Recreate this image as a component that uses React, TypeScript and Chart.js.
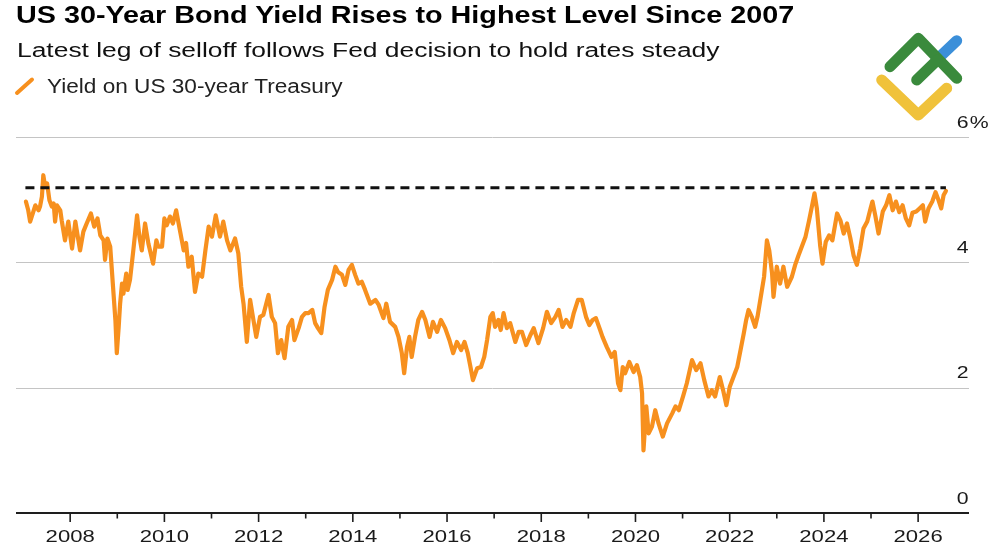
import React, { useEffect, useRef } from "react";
import { Chart, registerables } from "chart.js";

Chart.register(...registerables);

// Decimal-year dates and 30-year Treasury yields (%)
const dates: number[] = [
  2007.06, 2007.11, 2007.15, 2007.21, 2007.26, 2007.33, 2007.36, 2007.40, 2007.43, 2007.47,
  2007.51, 2007.56, 2007.61, 2007.65, 2007.68, 2007.72, 2007.79, 2007.82, 2007.89, 2007.96,
  2008.04, 2008.11, 2008.14, 2008.21, 2008.28, 2008.35, 2008.44, 2008.51, 2008.58, 2008.64,
  2008.71, 2008.74, 2008.79, 2008.85, 2008.91, 2008.96, 2008.99, 2009.03, 2009.06, 2009.10,
  2009.13, 2009.19, 2009.22, 2009.27, 2009.34, 2009.42, 2009.47, 2009.52, 2009.59, 2009.66,
  2009.76, 2009.83, 2009.87, 2009.95, 2010.00, 2010.05, 2010.12, 2010.18, 2010.25, 2010.34,
  2010.41, 2010.46, 2010.51, 2010.58, 2010.65, 2010.72, 2010.80, 2010.87, 2010.94, 2011.01,
  2011.09, 2011.18, 2011.25, 2011.33, 2011.40, 2011.50, 2011.57, 2011.63, 2011.68, 2011.75,
  2011.82, 2011.89, 2011.95, 2012.03, 2012.10, 2012.21, 2012.28, 2012.35, 2012.41, 2012.48,
  2012.55, 2012.63, 2012.71, 2012.76, 2012.85, 2012.92, 2012.99, 2013.06, 2013.14, 2013.20,
  2013.26, 2013.33, 2013.40, 2013.47, 2013.56, 2013.63, 2013.69, 2013.77, 2013.84, 2013.91,
  2013.98, 2014.05, 2014.12, 2014.19, 2014.26, 2014.37, 2014.48, 2014.55, 2014.65, 2014.71,
  2014.79, 2014.90, 2014.97, 2015.04, 2015.09, 2015.15, 2015.20, 2015.25, 2015.32, 2015.39,
  2015.47, 2015.54, 2015.63, 2015.70, 2015.79, 2015.87, 2015.96, 2016.05, 2016.13, 2016.21,
  2016.30, 2016.37, 2016.44, 2016.49, 2016.55, 2016.64, 2016.72, 2016.79, 2016.85, 2016.92,
  2016.97, 2017.02, 2017.09, 2017.14, 2017.20, 2017.27, 2017.34, 2017.45, 2017.52, 2017.59,
  2017.68, 2017.77, 2017.84, 2017.94, 2018.04, 2018.12, 2018.21, 2018.30, 2018.37, 2018.45,
  2018.53, 2018.62, 2018.69, 2018.78, 2018.86, 2018.95, 2019.02, 2019.09, 2019.16, 2019.25,
  2019.30, 2019.39, 2019.49, 2019.56, 2019.63, 2019.68, 2019.73, 2019.78, 2019.87, 2019.96,
  2020.03, 2020.10, 2020.14, 2020.17, 2020.23, 2020.28, 2020.35, 2020.42, 2020.49, 2020.58,
  2020.67, 2020.78, 2020.85, 2020.92, 2021.01, 2021.09, 2021.20, 2021.29, 2021.38, 2021.46,
  2021.55, 2021.62, 2021.69, 2021.79, 2021.86, 2021.93, 2022.00, 2022.08, 2022.16, 2022.23,
  2022.30, 2022.35, 2022.40, 2022.47, 2022.54, 2022.59, 2022.66, 2022.73, 2022.79, 2022.84,
  2022.90, 2022.93, 2023.00, 2023.07, 2023.14, 2023.22, 2023.32, 2023.39, 2023.46, 2023.53,
  2023.61, 2023.68, 2023.75, 2023.80, 2023.85, 2023.92, 2023.97, 2024.04, 2024.11, 2024.18,
  2024.28, 2024.35, 2024.42, 2024.49, 2024.56, 2024.63, 2024.70, 2024.77, 2024.84, 2024.92,
  2024.99, 2025.03, 2025.09, 2025.16, 2025.25, 2025.32, 2025.39, 2025.46, 2025.53, 2025.60,
  2025.67, 2025.74, 2025.81, 2025.88, 2025.96, 2026.03, 2026.10, 2026.15, 2026.22, 2026.30,
  2026.37, 2026.42, 2026.49, 2026.54, 2026.59,
];

const yields: number[] = [
  4.97, 4.83, 4.65, 4.79, 4.91, 4.83, 4.89, 5.05, 5.39, 5.20,
  5.26, 4.99, 4.89, 4.94, 4.65, 4.91, 4.83, 4.67, 4.35, 4.65,
  4.22, 4.65, 4.51, 4.19, 4.49, 4.62, 4.78, 4.57, 4.70, 4.43,
  4.35, 4.04, 4.38, 4.25, 3.61, 3.08, 2.55, 2.97, 3.34, 3.66,
  3.50, 3.82, 3.56, 3.72, 4.19, 4.75, 4.41, 4.19, 4.62, 4.30,
  3.98, 4.35, 4.25, 4.25, 4.70, 4.59, 4.73, 4.62, 4.83, 4.47,
  4.19, 4.31, 3.93, 4.09, 3.53, 3.82, 3.77, 4.19, 4.57, 4.41,
  4.75, 4.41, 4.65, 4.35, 4.19, 4.38, 4.14, 3.61, 3.34, 2.73,
  3.40, 3.08, 2.81, 3.13, 3.16, 3.48, 3.13, 3.03, 2.55, 2.76,
  2.47, 2.97, 3.08, 2.76, 2.95, 3.13, 3.19, 3.19, 3.24, 3.03,
  2.95, 2.87, 3.29, 3.56, 3.72, 3.93, 3.84, 3.80, 3.64, 3.88,
  3.96, 3.80, 3.66, 3.69, 3.56, 3.34, 3.40, 3.32, 3.11, 3.34,
  3.05, 2.97, 2.81, 2.55, 2.23, 2.65, 2.81, 2.49, 2.81, 3.08,
  3.21, 3.08, 2.81, 3.05, 2.89, 3.08, 2.95, 2.76, 2.55, 2.73,
  2.60, 2.73, 2.55, 2.36, 2.12, 2.31, 2.33, 2.49, 2.76, 3.13,
  3.19, 2.97, 3.08, 2.92, 3.19, 2.95, 3.03, 2.73, 2.89, 2.89,
  2.68, 2.84, 2.95, 2.71, 2.95, 3.21, 3.03, 3.13, 3.24, 2.97,
  3.08, 2.97, 3.19, 3.40, 3.40, 3.13, 3.00, 3.08, 3.11, 2.92,
  2.81, 2.65, 2.49, 2.57, 2.07, 1.96, 2.33, 2.23, 2.41, 2.25,
  2.36, 2.17, 1.91, 1.00, 1.70, 1.27, 1.38, 1.64, 1.43, 1.22,
  1.43, 1.59, 1.70, 1.64, 1.86, 2.07, 2.44, 2.28, 2.39, 2.12,
  1.86, 1.96, 1.86, 2.17, 1.96, 1.72, 2.01, 2.17, 2.33, 2.60,
  2.87, 3.08, 3.24, 3.13, 2.97, 3.13, 3.45, 3.77, 4.35, 4.19,
  3.82, 3.45, 3.93, 3.66, 3.93, 3.61, 3.77, 3.96, 4.11, 4.25,
  4.41, 4.65, 4.91, 5.10, 4.86, 4.27, 3.98, 4.33, 4.43, 4.35,
  4.78, 4.67, 4.46, 4.62, 4.39, 4.11, 3.96, 4.22, 4.54, 4.65,
  4.86, 4.97, 4.75, 4.46, 4.81, 4.91, 5.07, 4.83, 4.97, 4.80,
  4.91, 4.70, 4.59, 4.79, 4.81, 4.86, 4.91, 4.65, 4.86, 4.97,
  5.12, 5.02, 4.86, 5.07, 5.14,
];

// Dashed reference: current level, drawn across the full history
const referenceLevel = 5.19;
const referenceSpan: number[] = [2007.05, 2026.59];

const yTickValues: number[] = [0, 2, 4, 6];
const yearLabels: number[] = [2008, 2010, 2012, 2014, 2016, 2018, 2020, 2022, 2024, 2026];
const minorYears: number[] = [2009, 2011, 2013, 2015, 2017, 2019, 2021, 2023, 2025];

const ORANGE = "#f7901e";
const FONT = '"Liberation Sans", Arial, Helvetica, sans-serif';

const axisDecor = {
  id: "axisDecor",
  beforeDatasetsDraw(chart: any) {
    const { ctx, chartArea, scales } = chart;
    const y = scales.y;
    ctx.save();
    ctx.strokeStyle = "#c4c4c4";
    ctx.lineWidth = 1;
    for (const v of yTickValues) {
      if (v === 0) continue;
      const py = Math.round(y.getPixelForValue(v)) + 0.5;
      ctx.beginPath();
      ctx.moveTo(chartArea.left, py);
      ctx.lineTo(chartArea.right, py);
      ctx.stroke();
    }
    ctx.restore();
  },
  afterDraw(chart: any) {
    const { ctx, chartArea, scales } = chart;
    const x = scales.x;
    const y = scales.y;
    ctx.save();
    // baseline axis
    const base = y.getPixelForValue(0);
    ctx.strokeStyle = "#1e1e1e";
    ctx.lineWidth = 2;
    ctx.beginPath();
    ctx.moveTo(chartArea.left, base);
    ctx.lineTo(chartArea.right, base);
    ctx.stroke();
    // tick marks
    ctx.lineWidth = 1.6;
    for (const yr of yearLabels) {
      const px = x.getPixelForValue(yr);
      ctx.beginPath();
      ctx.moveTo(px, base);
      ctx.lineTo(px, base + 9);
      ctx.stroke();
    }
    for (const yr of minorYears) {
      const px = x.getPixelForValue(yr);
      ctx.beginPath();
      ctx.moveTo(px, base);
      ctx.lineTo(px, base + 5.5);
      ctx.stroke();
    }
    // year labels
    ctx.fillStyle = "#1a1a1a";
    ctx.font = `17px ${FONT}`;
    ctx.textBaseline = "alphabetic";
    ctx.textAlign = "center";
    for (const yr of yearLabels) {
      const px = x.getPixelForValue(yr);
      ctx.save();
      ctx.translate(px, base + 29);
      ctx.scale(1.3, 1);
      ctx.fillText(String(yr), 0, 0);
      ctx.restore();
    }
    // value labels above the gridlines, right aligned
    for (const v of yTickValues) {
      const py = y.getPixelForValue(v);
      ctx.save();
      ctx.translate(chartArea.right - 0.5, py - 9.5);
      ctx.scale(1.25, 1);
      ctx.textAlign = "right";
      ctx.fillText(String(v), 0, 0);
      if (v === 6) {
        ctx.textAlign = "left";
        ctx.fillText("%", 1, 0);
      }
      ctx.restore();
    }
    ctx.restore();
  },
};

function Logo() {
  return (
    <svg
      width={1000}
      height={545}
      style={{ position: "absolute", left: 0, top: 0, pointerEvents: "none" }}
    >
      <g fill="none" strokeLinecap="round" strokeLinejoin="round" strokeWidth={11}>
        <polyline points="881.7,80 918.3,115 946.7,88.3" stroke="#f0c23b" />
        <line x1={941.7} y1={55} x2={956.7} y2={40.7} stroke="#3b8fd9" />
        <polyline points="890,66.7 918.3,38.3 956.7,78.3" stroke="#3a8a3c" />
        <line x1={916.7} y1={80} x2={937.3} y2={60} stroke="#3a8a3c" />
      </g>
    </svg>
  );
}

export default function App() {
  const canvasRef = useRef<HTMLCanvasElement | null>(null);

  useEffect(() => {
    const canvas = canvasRef.current;
    if (!canvas) return;
    const series = dates.map((d, i) => ({ x: d, y: yields[i] }));
    const reference = referenceSpan.map((d) => ({ x: d, y: referenceLevel }));
    const chart = new Chart(canvas, {
      type: "line",
      data: {
        datasets: [
          {
            label: "Reference level",
            data: reference,
            borderColor: "#111111",
            borderWidth: 3,
            borderDash: [9, 6],
            pointRadius: 0,
            fill: false,
          },
          {
            label: "Yield on US 30-year Treasury",
            data: series,
            borderColor: ORANGE,
            borderWidth: 4.2,
            borderJoinStyle: "round",
            borderCapStyle: "round",
            pointRadius: 0,
            tension: 0,
            fill: false,
          },
        ],
      },
      options: {
        responsive: false,
        animation: false,
        devicePixelRatio: 1,
        layout: { padding: { left: 16, right: 31, top: 137, bottom: 32 } },
        plugins: {
          legend: { display: false },
          title: { display: false },
          tooltip: { enabled: false },
        },
        scales: {
          x: { type: "linear", min: 2006.85, max: 2027.08, display: false },
          y: { type: "linear", min: 0, max: 6, display: false },
        },
      },
      plugins: [axisDecor],
    });
    return () => chart.destroy();
  }, []);

  return (
    <div
      style={{
        position: "absolute",
        left: 0,
        top: 0,
        width: 1000,
        height: 545,
        background: "#ffffff",
        overflow: "hidden",
        fontFamily: FONT,
      }}
    >
      <canvas
        ref={canvasRef}
        width={1000}
        height={545}
        style={{ position: "absolute", left: 0, top: 0 }}
      />
      <div
        style={{
          position: "absolute",
          left: 16,
          top: 3.8,
          fontSize: 23,
          lineHeight: "23px",
          fontWeight: 700,
          color: "#000",
          whiteSpace: "nowrap",
          transform: "scaleX(1.25)",
          transformOrigin: "left top",
        }}
      >
        US 30-Year Bond Yield Rises to Highest Level Since 2007
      </div>
      <div
        style={{
          position: "absolute",
          left: 16.5,
          top: 40.4,
          fontSize: 20,
          lineHeight: "20px",
          color: "#111",
          whiteSpace: "nowrap",
          transform: "scaleX(1.32)",
          transformOrigin: "left top",
        }}
      >
        Latest leg of selloff follows Fed decision to hold rates steady
      </div>
      <svg
        width={40}
        height={30}
        style={{ position: "absolute", left: 0, top: 70 }}
      >
        <line x1={17} y1={23} x2={32} y2={9.5} stroke={ORANGE} strokeWidth={4} strokeLinecap="round" />
      </svg>
      <div
        style={{
          position: "absolute",
          left: 46.5,
          top: 76.4,
          fontSize: 20,
          lineHeight: "20px",
          color: "#222",
          whiteSpace: "nowrap",
          transform: "scaleX(1.13)",
          transformOrigin: "left top",
        }}
      >
        Yield on US 30-year Treasury
      </div>
      <Logo />
    </div>
  );
}
